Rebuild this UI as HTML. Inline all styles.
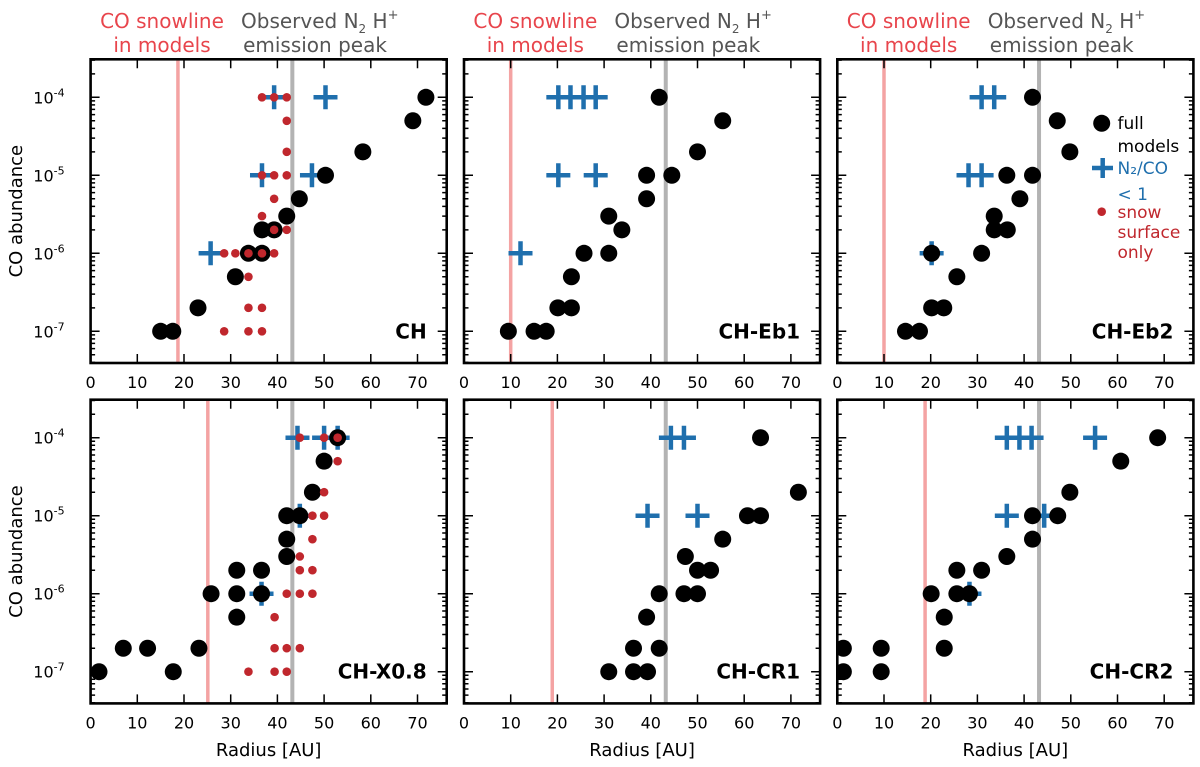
<!DOCTYPE html>
<html><head><meta charset="utf-8"><style>
body{margin:0;background:#fff;}
svg{display:block;font-family:"DejaVu Sans","Liberation Sans",sans-serif;}
</style></head><body>
<svg id="chart" width="1200" height="767" viewBox="0 0 1200 767"></svg>
<script>
// ---- data (radius in AU, CO abundance) ----
const panelNames = ["CH","CH-Eb1","CH-Eb2","CH-X0.8","CH-CR1","CH-CR2"];
const snowlines = [18.7, 10, 10, 25.1, 18.9, 18.8];
const n2hPeak = 43.2;
const xTicks = [0,10,20,30,40,50,60,70];
const yTickExps = [-4,-5,-6,-7];

const chFullR = [15,17.6,23,31,33.8,36.7,36.7,39.3,42,44.7,50.3,58.3,69,71.8];
const chFullA = [1e-7,1e-7,2e-7,5e-7,1e-6,1e-6,2e-6,2e-6,3e-6,5e-6,1e-5,2e-5,5e-5,1e-4];
const chPlusR = [25.7,36.7,47.4,39.3,50.3];
const chPlusA = [1e-6,1e-5,1e-5,1e-4,1e-4];
const chSnowR = [36.7,39.3,42,42,42,36.7,39.3,42,39.3,36.7,39.3,42,28.6,31,33.8,36.7,39.3,33.8,33.8,36.7,28.6,33.8,36.7];
const chSnowA = [1e-4,1e-4,1e-4,5e-5,2e-5,1e-5,1e-5,1e-5,5e-6,3e-6,2e-6,2e-6,1e-6,1e-6,1e-6,1e-6,1e-6,5e-7,2e-7,2e-7,1e-7,1e-7,1e-7];

const eb1FullR = [9.5,15,17.6,20.1,23,23,25.7,31,31,33.8,39.1,39.1,44.5,41.8,50,55.4];
const eb1FullA = [1e-7,1e-7,1e-7,2e-7,2e-7,5e-7,1e-6,1e-6,3e-6,2e-6,5e-6,1e-5,1e-5,1e-4,2e-5,5e-5];
const eb1PlusR = [20.2,22.8,25.6,28.2,20.2,28.2,12.1];
const eb1PlusA = [1e-4,1e-4,1e-4,1e-4,1e-5,1e-5,1e-6];
const eb1SnowR = [];
const eb1SnowA = [];

const eb2FullR = [14.6,17.6,20.2,22.8,25.6,20.2,30.9,33.6,33.6,36.4,39.1,36.3,41.8,41.8,47.1,49.8];
const eb2FullA = [1e-7,1e-7,2e-7,2e-7,5e-7,1e-6,1e-6,3e-6,2e-6,2e-6,5e-6,1e-5,1e-5,1e-4,5e-5,2e-5];
const eb2PlusR = [20.2,30.9,33.6,28.1,30.9];
const eb2PlusA = [1e-6,1e-4,1e-4,1e-5,1e-5];
const eb2SnowR = [];
const eb2SnowA = [];

const x08FullR = [1.8,7,12.2,17.7,23.2,25.8,31.3,31.3,31.3,36.6,36.6,42,42,42,44.8,47.5,50,52.9];
const x08FullA = [1e-7,2e-7,2e-7,1e-7,2e-7,1e-6,1e-6,2e-6,5e-7,2e-6,1e-6,5e-6,3e-6,1e-5,1e-5,2e-5,5e-5,1e-4];
const x08PlusR = [36.6,44.8,44.3,50,52.9];
const x08PlusA = [1e-6,1e-5,1e-4,1e-4,1e-4];
const x08SnowR = [44.8,50,52.9,52.9,50,47.5,50,47.5,44.8,44.8,47.5,42,44.8,47.5,39.4,39.4,42,44.8,33.8,39.4,42];
const x08SnowA = [1e-4,1e-4,1e-4,5e-5,2e-5,1e-5,1e-5,5e-6,3e-6,2e-6,2e-6,1e-6,1e-6,1e-6,5e-7,2e-7,2e-7,2e-7,1e-7,1e-7,1e-7];

const cr1FullR = [31,36.3,39.3,36.3,41.8,39.1,41.8,47.1,50,50,52.8,47.4,55.4,60.7,63.5,63.5,71.6];
const cr1FullA = [1e-7,1e-7,1e-7,2e-7,2e-7,5e-7,1e-6,1e-6,1e-6,2e-6,2e-6,3e-6,5e-6,1e-5,1e-5,1e-4,2e-5];
const cr1PlusR = [44.3,47.1,39.3,50];
const cr1PlusA = [1e-4,1e-4,1e-5,1e-5];
const cr1SnowR = [];
const cr1SnowA = [];

const cr2FullR = [1.3,1.3,9.4,9.4,22.9,22.9,20.1,25.6,25.6,28.3,30.9,36.3,41.8,41.8,47.2,49.8,60.7,68.6];
const cr2FullA = [1e-7,2e-7,1e-7,2e-7,2e-7,5e-7,1e-6,1e-6,2e-6,1e-6,2e-6,3e-6,5e-6,1e-5,1e-5,2e-5,5e-5,1e-4];
const cr2PlusR = [28.3,36.3,44.3,36.3,39.0,41.6,55.2];
const cr2PlusA = [1e-6,1e-5,1e-5,1e-4,1e-4,1e-4,1e-4];
const cr2SnowR = [];
const cr2SnowA = [];

const fullR = [chFullR,eb1FullR,eb2FullR,x08FullR,cr1FullR,cr2FullR];
const fullA = [chFullA,eb1FullA,eb2FullA,x08FullA,cr1FullA,cr2FullA];
const plusR = [chPlusR,eb1PlusR,eb2PlusR,x08PlusR,cr1PlusR,cr2PlusR];
const plusA = [chPlusA,eb1PlusA,eb2PlusA,x08PlusA,cr1PlusA,cr2PlusA];
const snowR = [chSnowR,eb1SnowR,eb2SnowR,x08SnowR,cr1SnowR,cr2SnowR];
const snowA = [chSnowA,eb1SnowA,eb2SnowA,x08SnowA,cr1SnowA,cr2SnowA];

// ---- layout ----
const NS = "http://www.w3.org/2000/svg";
const svg = document.getElementById("chart");
const lefts = [90.6, 464, 837.3], tops = [59.3, 399.7];
const PW = 356.1, PH = 303.7, PXU = 4.67, DEC = 78;
function mk(tag, attrs, parent){
  const e = document.createElementNS(NS, tag);
  for (const k in attrs) e.setAttribute(k, attrs[k]);
  (parent||svg).appendChild(e); return e;
}
function xs(p, r){ return lefts[p%3] + r*PXU; }
function ys(p, a){ return tops[Math.floor(p/3)] + 38 + (-4 - Math.log10(a))*DEC; }

const BLUE="#1f6fad", RED="#c0272d", PINK="#f4a3a3", GREY="#b3b3b3";

// header labels
for (let c=0;c<3;c++){
  const off = c*373.35;
  let t = mk("text",{x:162+off,y:28,"text-anchor":"middle","font-size":20,fill:"#e8454c"});
  
  
  t.textContent="CO snowline";
  t = mk("text",{x:162+off,y:52,"text-anchor":"middle","font-size":20,fill:"#e8454c"});
  
  
  t.textContent="in models";
  t = mk("text",{x:241+off,y:28,"font-size":20,fill:"#555"});
  
  
  t.innerHTML='Observed N<tspan font-size="12" dy="5">2</tspan><tspan dy="-5"> H</tspan><tspan font-size="13" dy="-9">+</tspan>';
  t = mk("text",{x:315+off,y:52,"text-anchor":"middle","font-size":20,fill:"#555"});
  
  
  t.textContent="emission peak";
}

for (let p=0;p<6;p++){
  const L = lefts[p%3], T = tops[Math.floor(p/3)];
  const g = mk("g",{});
  
  
  const cp = mk("clipPath",{id:"cp"+p},g);
  mk("rect",{x:L,y:T,width:PW,height:PH},cp);
  const inner = mk("g",{"clip-path":"url(#cp"+p+")"},g);
  // vertical lines
  let ln = mk("line",{x1:xs(p,snowlines[p]),x2:xs(p,snowlines[p]),y1:T,y2:T+PH,stroke:PINK,"stroke-width":3.5},inner);
  
  
  ln = mk("line",{x1:xs(p,n2hPeak),x2:xs(p,n2hPeak),y1:T,y2:T+PH,stroke:GREY,"stroke-width":4},inner);
  
  
  // pluses
  for (let i=0;i<plusR[p].length;i++){
    const cx = xs(p,plusR[p][i]), cy = ys(p,plusA[p][i]);
    const pl = mk("path",{d:`M${cx-12},${cy}H${cx+12}M${cx},${cy-12}V${cy+12}`,stroke:BLUE,"stroke-width":4.5,fill:"none"},inner);
    
    
  }
  // full model circles
  for (let i=0;i<fullR[p].length;i++){
    const c = mk("circle",{cx:xs(p,fullR[p][i]),cy:ys(p,fullA[p][i]),r:8.5,fill:"#000"},inner);
    
    
  }
  // snow surface dots
  for (let i=0;i<snowR[p].length;i++){
    const c = mk("circle",{cx:xs(p,snowR[p][i]),cy:ys(p,snowA[p][i]),r:4.3,fill:RED},inner);
    
    
  }
  // ticks
  let tp = "";
  for (const xv of xTicks){ if (xv===0) continue; const x = xs(p,xv); tp += `M${x},${T}v9M${x},${T+PH}v-9`; }
  for (let e=-8;e<=-3;e++){
    for (let m=1;m<10;m++){
      const v = m*Math.pow(10,e), y = ys(p,v);
      if (y<T||y>T+PH) continue;
      const len = m===1?9:4.5;
      tp += `M${L},${y}h${len}M${L+PW},${y}h${-len}`;
    }
  }
  const tk = mk("path",{d:tp,stroke:"#000","stroke-width":1.5,fill:"none"},g);
  
  
  const fr = mk("rect",{x:L,y:T,width:PW,height:PH,fill:"none",stroke:"#000","stroke-width":2.6},g);
  
  
  // x tick labels
  for (const xv of xTicks){
    const t = mk("text",{x:xs(p,xv),y:T+PH+25,"text-anchor":"middle","font-size":16,fill:"#000"},g);
    
    
    t.textContent = xv;
  }
  // y tick labels
  if (p%3===0){
    for (const e of yTickExps){
      const t = mk("text",{x:L-26,y:ys(p,Math.pow(10,e))+6,"text-anchor":"end","font-size":16,fill:"#000"},g);
      
      
      t.innerHTML = '10<tspan font-size="11" dy="-7">'+e+'</tspan>';
    }
    const yt = mk("text",{x:0,y:0,"text-anchor":"middle","font-size":18,fill:"#000",transform:`translate(22,${T+PH/2}) rotate(-90)`},g);
    
    
    yt.textContent = "CO abundance";
  }
  if (p>=3){
    const xt = mk("text",{x:L+PW/2,y:756,"text-anchor":"middle","font-size":18,fill:"#000"},g);
    
    
    xt.textContent = "Radius [AU]";
  }
  const pl = mk("text",{x:L+PW-20,y:ys(p,1e-7)+7,"text-anchor":"end","font-size":20,"font-weight":"bold",fill:"#000"},g);
  
  
  pl.textContent = panelNames[p];
}

// legend in panel 3
const lg = mk("g",{});


let e = mk("circle",{cx:1101.7,cy:123.3,r:8.5,fill:"#000"},lg);


const legendText = [["full",123,"#000"],["models",146,"#000"],["N₂/CO",168,BLUE],["< 1",194,BLUE],["snow",212,RED],["surface",232,RED],["only",252,RED]];
for (const [s,y,c] of legendText){
  const t = mk("text",{x:1117.5,y:y+6,"font-size":17,fill:c},lg);
  
  
  t.textContent = s;
}
e = mk("path",{d:"M1092,168H1113M1102.7,158V178",stroke:BLUE,"stroke-width":4.5},lg);


e = mk("circle",{cx:1101.7,cy:211.7,r:4.3,fill:RED},lg);


</script>
</body></html>
